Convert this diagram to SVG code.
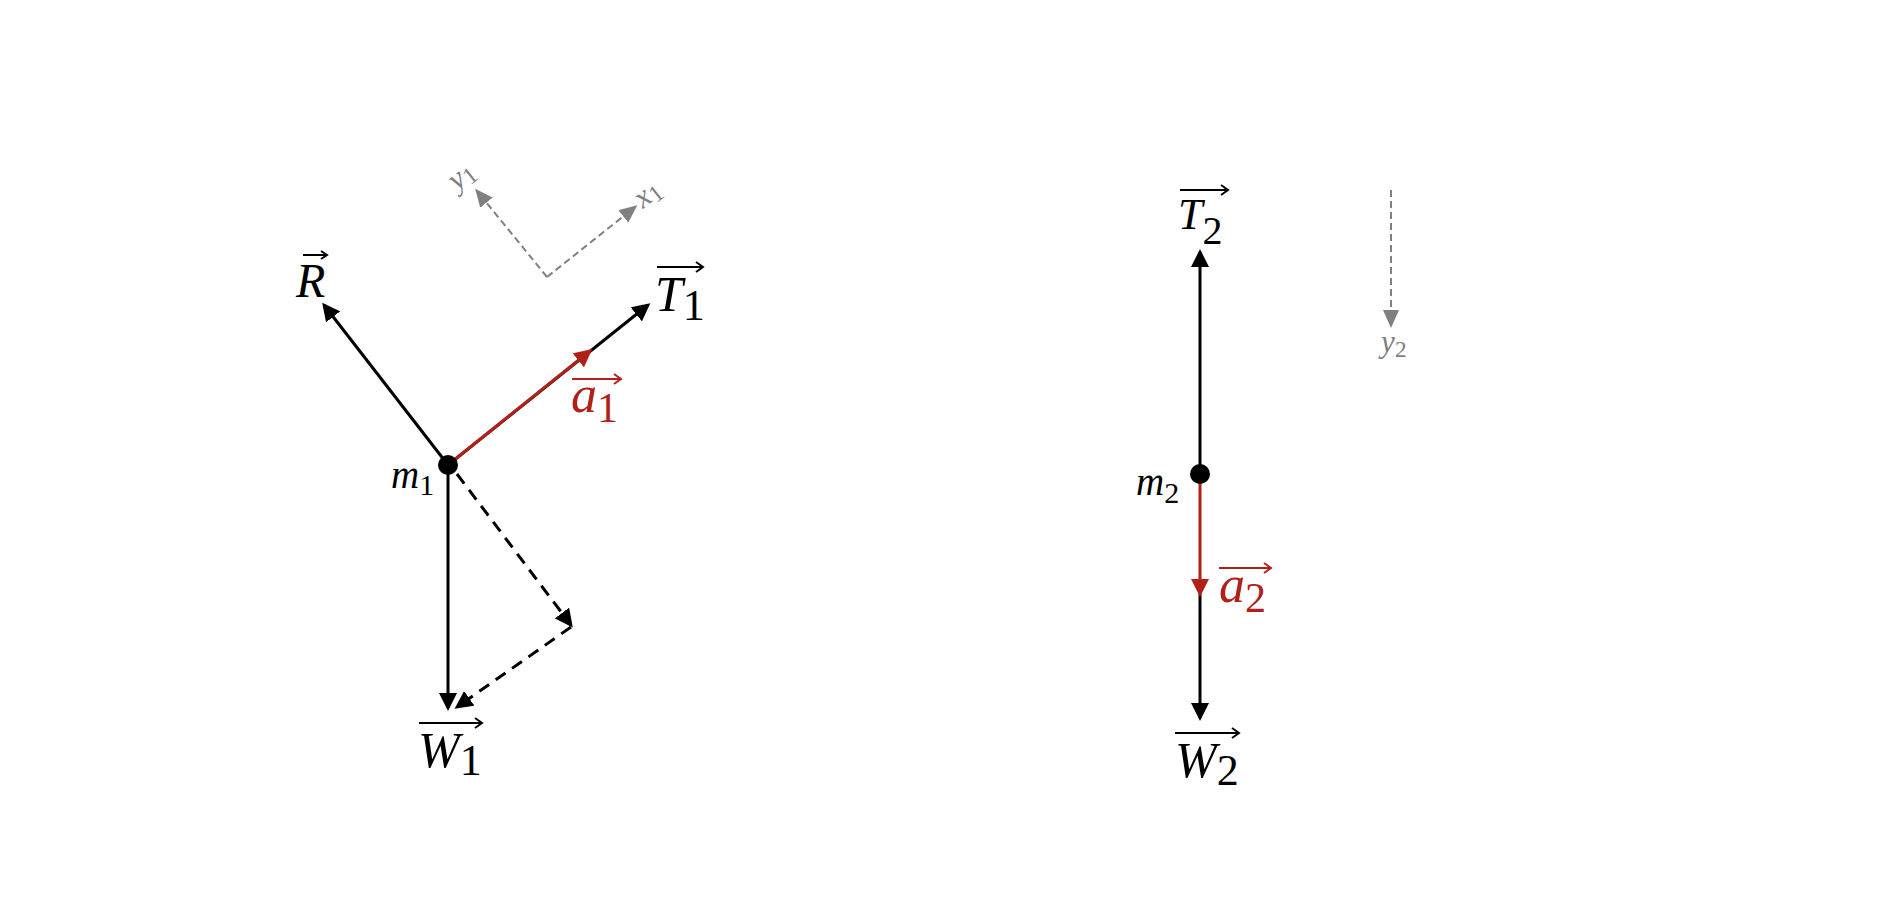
<svg xmlns="http://www.w3.org/2000/svg" width="1884" height="924" viewBox="0 0 1884 924">
<style>
.f{stroke:#000;stroke-width:3;fill:none}
.r{stroke:#b0211a;stroke-width:3;fill:none}
.d{stroke:#000;stroke-width:3;fill:none;stroke-dasharray:12 8}
.g{stroke:#808080;stroke-width:2;fill:none;stroke-dasharray:7 4}
.t{font-family:"Liberation Serif","Times New Roman",serif;font-style:italic}
.n{font-style:normal}
.ov{stroke-width:2;fill:none}
</style>
<defs>
<marker id="ak" viewBox="0 0 18 18" refX="15" refY="9" markerWidth="18" markerHeight="18" markerUnits="userSpaceOnUse" orient="auto"><path d="M0,0 L18,9 L0,18 z" fill="#000"/></marker>
<marker id="ar" viewBox="0 0 18 18" refX="15" refY="9" markerWidth="18" markerHeight="18" markerUnits="userSpaceOnUse" orient="auto"><path d="M0,0 L18,9 L0,18 z" fill="#b0211a"/></marker>
<marker id="ag" viewBox="0 0 18 16" refX="15" refY="8" markerWidth="18" markerHeight="16" markerUnits="userSpaceOnUse" orient="auto"><path d="M0,0 L18,8 L0,16 z" fill="#808080"/></marker>
</defs>
<rect width="1884" height="924" fill="#fff"/>
<g id="connectors">
<line class="f" x1="448" y1="465" x2="324" y2="305" marker-end="url(#ak)"/>
<line class="f" x1="448" y1="465" x2="648" y2="305" marker-end="url(#ak)"/>
<line class="r" x1="448" y1="465" x2="590" y2="351" marker-end="url(#ar)"/>
<line class="f" x1="448" y1="465" x2="448" y2="708" marker-end="url(#ak)"/>
<line class="d" x1="457" y1="474" x2="571" y2="625" marker-end="url(#ak)"/>
<line class="d" x1="571" y1="627" x2="457" y2="707" marker-end="url(#ak)"/>
<line class="g" x1="547" y1="277" x2="477" y2="191" marker-end="url(#ag)"/>
<line class="g" x1="547" y1="277" x2="635" y2="207" marker-end="url(#ag)"/>
<line class="f" x1="1200" y1="474" x2="1200" y2="252" marker-end="url(#ak)"/>
<line class="f" x1="1200" y1="590" x2="1200" y2="718" marker-end="url(#ak)"/>
<line class="r" x1="1200" y1="474" x2="1200" y2="594" marker-end="url(#ar)"/>
<line class="g" x1="1391" y1="190" x2="1391" y2="325" marker-end="url(#ag)"/>
</g>
<g id="m1">
<circle cx="448" cy="465" r="10" fill="#000"/>
<text class="t" x="391" y="488" font-size="39">m<tspan class="n" font-size="30" dy="7">1</tspan></text>
</g>
<g id="R">
<text class="t" x="296" y="297" font-size="48">R</text>
<path class="ov" stroke="#000" d="M303,255 H327 M321,251 L327,255 L321,259"/>
</g>
<g id="T1">
<text class="t" x="655" y="311" font-size="50">T<tspan class="n" dy="9" font-size="44">1</tspan></text>
<path class="ov" stroke="#000" d="M657,267 H703 M696,262 L703,267 L696,272"/>
</g>
<g id="a1">
<text class="t" x="571" y="412" font-size="52" fill="#b0211a">a<tspan class="n" dy="10" font-size="42">1</tspan></text>
<path class="ov" stroke="#b0211a" d="M572,379 H621 M614,374 L621,379 L614,384"/>
</g>
<g id="W1">
<text class="t" x="418" y="767" font-size="50">W<tspan class="n" dy="8" font-size="44">1</tspan></text>
<path class="ov" stroke="#000" d="M419,723 H482 M475,718 L482,723 L475,728"/>
</g>
<g id="axes1">
<text class="t" x="0" y="0" font-size="31" fill="#808080" transform="translate(457,191) rotate(-38.5)">y<tspan class="n" dy="4" font-size="24">1</tspan></text>
<text class="t" x="0" y="0" font-size="31" fill="#808080" transform="translate(643,209) rotate(-38.5)">x<tspan class="n" dy="4" font-size="24">1</tspan></text>
</g>
<g id="m2">
<circle cx="1200" cy="474" r="10" fill="#000"/>
<text class="t" x="1136" y="495" font-size="39">m<tspan class="n" font-size="30" dy="8">2</tspan></text>
</g>
<g id="T2">
<text class="t" x="1178" y="229" font-size="44">T<tspan class="n" dy="15" font-size="40">2</tspan></text>
<path class="ov" stroke="#000" d="M1180,190 H1228 M1221,185 L1228,190 L1221,195"/>
</g>
<g id="a2">
<text class="t" x="1219" y="602" font-size="52" fill="#b0211a">a<tspan class="n" dy="10" font-size="42">2</tspan></text>
<path class="ov" stroke="#b0211a" d="M1219,568 H1271 M1264,563 L1271,568 L1264,573"/>
</g>
<g id="W2">
<text class="t" x="1175" y="777" font-size="50">W<tspan class="n" dy="8" font-size="44">2</tspan></text>
<path class="ov" stroke="#000" d="M1175,733 H1239 M1232,728 L1239,733 L1232,738"/>
</g>
<g id="y2">
<text class="t" x="1381" y="352" font-size="31" fill="#808080">y<tspan class="n" dy="5" font-size="24">2</tspan></text>
</g>
</svg>
